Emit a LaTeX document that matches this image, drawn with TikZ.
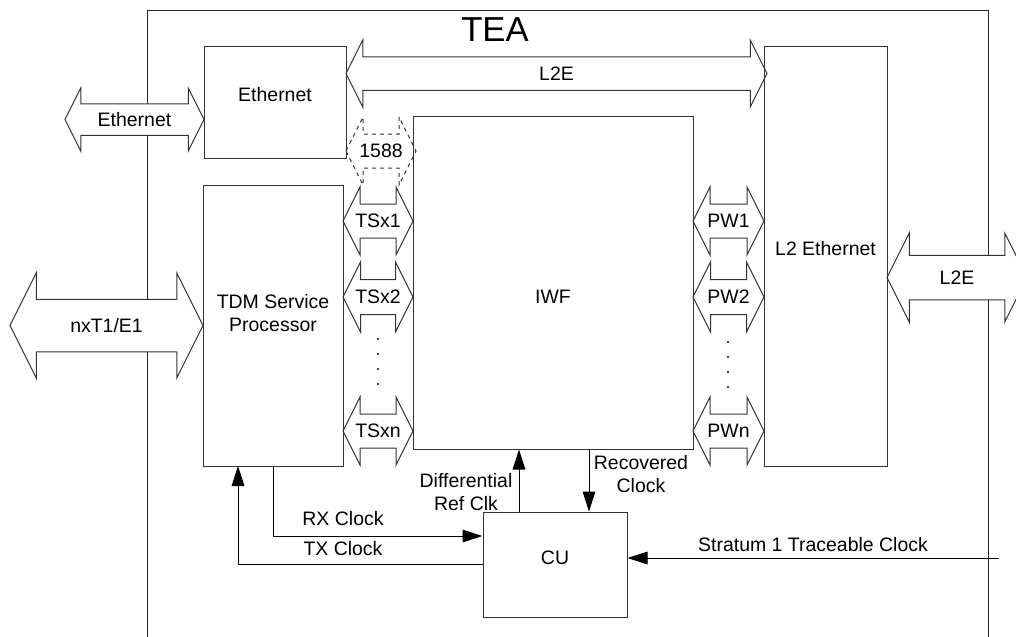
\documentclass[tikz,border=0pt]{standalone}
\usepackage{fontspec}
\setmainfont{Liberation Sans}
\usetikzlibrary{arrows.meta,fit}

\tikzset{every picture/.style={line width=0.75pt}}
\tikzset{
  blk/.style={draw=black!80, inner sep=0pt},
  dbl/.style={draw=black!80, fill=white},
  txt/.style={inner sep=0.75pt, align=center, font=\fontsize{14.6}{17.5}\selectfont},
  sig/.style={draw=black, -{Triangle[length=15pt,width=9.5pt]}},
}
% double arrow: [opts]{name}{left x}{right x}{mid y}{half width}{text}
\newcommand{\dblarrow}[7][]{%
  \draw [dbl,#1] (#3,#5) -- ({#3+#6/2},{#5-#6}) -- ({#3+#6/2},{#5-#6/2}) -- ({#4-#6/2},{#5-#6/2}) -- ({#4-#6/2},{#5-#6}) -- (#4,#5) -- ({#4-#6/2},{#5+#6}) -- ({#4-#6/2},{#5+#6/2}) -- ({#3+#6/2},{#5+#6/2}) -- ({#3+#6/2},{#5+#6}) -- cycle ;
  \node [txt] (#2) at ({(#3+#4)/2},#5) {#7};
}

\begin{document}
\begin{tikzpicture}[x=0.75pt,y=0.75pt,yscale=-1,xscale=1]
\useasboundingbox (0,0) rectangle (1016,636);
\clip (0,0) rectangle (1016,636);

%Shape: TEA frame
\draw [black!85] (147,660) -- (147,10) -- (988,10) -- (988,660) ;
% Text Node
\node [txt, font=\fontsize{26}{30}\selectfont] (tea) at (495,30) {TEA};

%Double Arrows: outside
\dblarrow{ethio}{65}{204}{119.5}{31.5}{Ethernet}
\dblarrow{tdmio}{10}{203}{325.5}{52.5}{nxT1/E1}
\dblarrow{l2eio}{887}{1027}{277.5}{44.5}{L2E}
%Double Arrows: inside
\dblarrow{l2ebus}{346}{767}{73.5}{33.5}{L2E}
\dblarrow[dashed, fill=none]{ptp}{346}{416}{151}{34}{1588}
\dblarrow{ts1}{343}{413}{221}{34}{TSx1}
\dblarrow{ts2}{343}{413}{297}{35}{TSx2}
\dblarrow{tsn}{343}{413}{431}{34}{TSxn}
\dblarrow{pw1}{693}{764}{221}{34}{PW1}
\dblarrow{pw2}{693}{764}{297}{35}{PW2}
\dblarrow{pwn}{693}{764}{431}{34}{PWn}

%Dots
\foreach \y in {339,354,369,384} {
  \fill (378,\y) circle (1.2) ;
  \fill (728,{\y+3}) circle (1.2) ;
}

%Shape: Blocks
\node [txt, blk, fit={(204,46) (346,158)}] (eth) {Ethernet};
\node [blk, fit={(203,185) (343,466)}] (tdm) {};
\node [blk, fit={(413,116) (693,449)}] (iwf) {};
\node [txt, blk, fit={(764,46) (887,466)}] (l2eth) {L2 Ethernet};
\node [txt, blk, fit={(483,512) (627,617)}] (cu) {CU};
% Text Node
\node [txt] (tdmlbl) at (273,313) {TDM Service\\Processor};
% Text Node
\node [txt] (iwflbl) at (553,297) {IWF};

%Clock lines
\coordinate (rx) at (273,536);
\coordinate (tx) at (238,466);
\coordinate (drc) at (519,0);
\coordinate (rcv) at (589,0);
\coordinate (s1) at (999,558);
\draw [sig] (tdm.south) -- (rx) -- (rx -| cu.west) ;
\draw [sig] (cu.west) -| (tx) ;
\draw [sig] (cu.north -| drc) -- (iwf.south -| drc) ;
\draw [sig] (iwf.south -| rcv) -- (cu.north -| rcv) ;
\draw [sig] (s1) -- (s1 -| cu.east) ;

% Text Node
\node [txt] (rxlbl) at (343,519) {RX Clock};
% Text Node
\node [txt] (txlbl) at (343,549) {TX Clock};
% Text Node
\node [txt] (drclbl) at (466,492) {Differential\\Ref Clk};
% Text Node
\node [txt] (rcvlbl) at (641,474) {Recovered\\Clock};
% Text Node
\node [txt] (s1lbl) at (813,545) {Stratum 1 Traceable Clock};

\end{tikzpicture}
\end{document}
